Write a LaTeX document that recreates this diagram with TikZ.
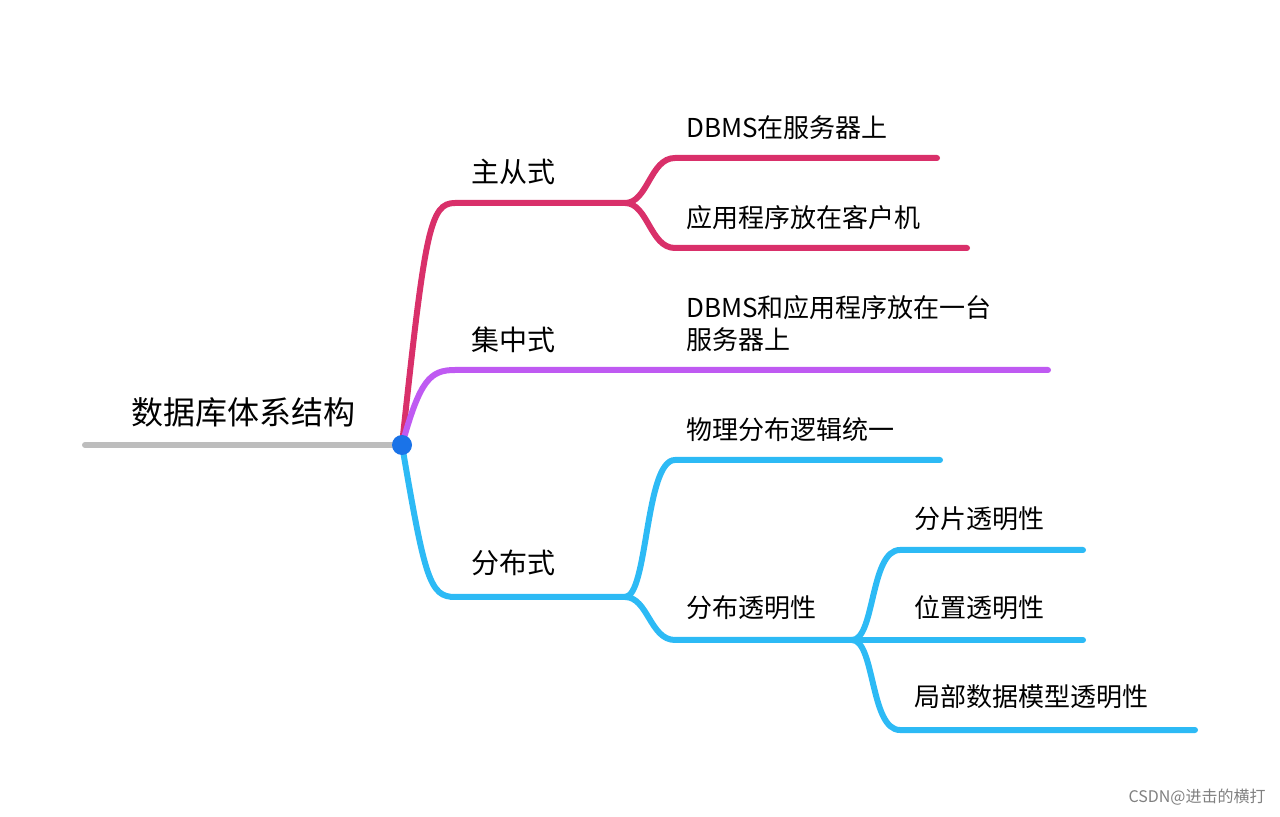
\documentclass[tikz,border=0pt]{standalone}
\usepackage{fontspec}
\setmainfont{Noto Sans CJK SC}
\begin{document}
\begin{tikzpicture}[x=0.5pt,y=-0.5pt,
  br/.style={line width=3pt,line cap=round},
  lbl/.style={anchor=west,inner sep=0pt,font=\fontsize{13}{16}\selectfont},
  top/.style={anchor=center,inner sep=0pt,font=\fontsize{14}{17}\selectfont}]
\definecolor{cred}{HTML}{D9306A}
\definecolor{cpur}{HTML}{BF5AF2}
\definecolor{cblu}{HTML}{2DBAF5}
\definecolor{cgry}{HTML}{BDBDBD}
\definecolor{cdot}{HTML}{1A73E8}
\useasboundingbox (0,0) rectangle (1280,817);
\coordinate (g0) at (85,445);
\coordinate (root) at (402,445);
\coordinate (r1) at (455,203); \coordinate (r2) at (625,203);
\coordinate (r3) at (675,158); \coordinate (r4) at (937,158);
\coordinate (r5) at (675,248); \coordinate (r6) at (967,248);
\coordinate (p1) at (455,370); \coordinate (p2) at (1048,370);
\coordinate (b1) at (455,597); \coordinate (b2) at (625,597);
\coordinate (b3) at (675,460); \coordinate (b4) at (940,460);
\coordinate (b5) at (675,640); \coordinate (b6) at (852,640);
\coordinate (c1) at (900,550); \coordinate (c2) at (1083,550);
\coordinate (c3) at (1083,640);
\coordinate (c4) at (900,730); \coordinate (c5) at (1195,730);
\draw[br,cgry] (g0) -- (root);
\draw[br,cred] (root) .. controls (425,230) and (430,203) .. (r1) -- (r2);
\draw[br,cred] (r2) .. controls (648,203) and (650,158) .. (r3) -- (r4);
\draw[br,cred] (r2) .. controls (648,203) and (650,248) .. (r5) -- (r6);
\draw[br,cpur] (root) .. controls (420,380) and (430,370) .. (p1) -- (p2);
\draw[br,cblu] (root) .. controls (425,580) and (430,597) .. (b1) -- (b2);
\draw[br,cblu] (b2) .. controls (648,597) and (645,460) .. (b3) -- (b4);
\draw[br,cblu] (b2) .. controls (648,597) and (650,640) .. (b5) -- (b6);
\draw[br,cblu] (b6) .. controls (875,640) and (870,550) .. (c1) -- (c2);
\draw[br,cblu] (b6) -- (c3);
\draw[br,cblu] (b6) .. controls (875,640) and (870,730) .. (c4) -- (c5);
\fill[cdot] (root) circle (10);
\node[top,font=\fontsize{16}{19}\selectfont] (t0) at (243,412) {数据库体系结构};
\node[top] (t1) at (513,172) {主从式};
\node[top] (t2) at (513,340) {集中式};
\node[top] (t3) at (513,563) {分布式};
\node[lbl] (l1) at (686,128) {DBMS在服务器上};
\node[lbl] (l2) at (686,218) {应用程序放在客户机};
\node[lbl,align=left,font=\fontsize{13}{16}\selectfont] (l3) at (686,324) {DBMS和应用程序放在一台\\服务器上};
\node[lbl] (l4) at (686,430) {物理分布逻辑统一};
\node[lbl] (l5) at (686,608) {分布透明性};
\node[lbl] (l6) at (914,519) {分片透明性};
\node[lbl] (l7) at (914,608) {位置透明性};
\node[lbl] (l8) at (914,697) {局部数据模型透明性};
\node[anchor=east,inner sep=0pt,text=gray,font=\fontsize{8}{10}\selectfont] (wm) at (1266,797) {CSDN@进击的横打};
\end{tikzpicture}
\end{document}
